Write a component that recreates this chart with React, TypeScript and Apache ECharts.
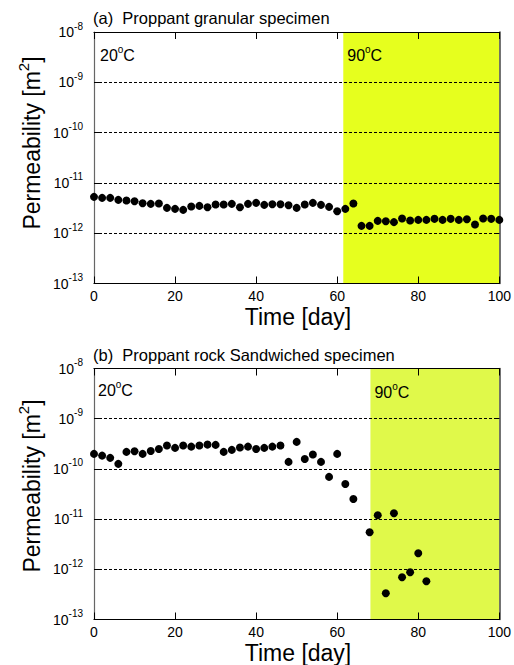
import React, { useEffect, useRef } from "react";
import * as echarts from "echarts";

// Panel (a): Proppant granular specimen
const daysA = [
  0, 2, 4, 6, 8, 10, 12, 14, 16, 18, 20, 22, 24, 26, 28, 30, 32, 34, 36, 38, 40,
  42, 44, 46, 48, 50, 52, 54, 56, 58, 60, 62, 64,
  66, 68, 70, 72, 74, 76, 78, 80, 82, 84, 86, 88, 90, 92, 94, 96, 98, 100,
];
const permA = [
  5.28e-12, 5.04e-12, 5.04e-12, 4.6e-12, 4.46e-12, 4.33e-12, 3.95e-12, 3.83e-12,
  3.89e-12, 3.19e-12, 3.05e-12, 2.91e-12, 3.39e-12, 3.49e-12, 3.29e-12, 3.71e-12,
  3.71e-12, 3.83e-12, 3.29e-12, 3.83e-12, 4.01e-12, 3.66e-12, 3.77e-12, 3.77e-12,
  3.6e-12, 3.19e-12, 3.71e-12, 4.01e-12, 3.66e-12, 3.34e-12, 2.74e-12, 3.05e-12,
  3.89e-12,
  1.4e-12, 1.4e-12, 1.76e-12, 1.73e-12, 1.66e-12, 1.96e-12, 1.79e-12, 1.84e-12,
  1.84e-12, 1.93e-12, 1.84e-12, 1.93e-12, 1.84e-12, 1.9e-12, 1.49e-12, 1.96e-12,
  1.93e-12, 1.84e-12,
];

// Panel (b): Proppant rock Sandwiched specimen
const daysB = [
  0, 2, 4, 6, 8, 10, 12, 14, 16, 18, 20, 22, 24, 26, 28, 30, 32, 34, 36, 38, 40,
  42, 44, 46, 48, 50, 52, 54, 56, 58, 60, 62, 64,
  68, 70, 72, 74, 76, 78, 80, 82,
];
const permB = [
  1.99e-10, 1.84e-10, 1.66e-10, 1.26e-10, 2.18e-10, 2.25e-10, 1.99e-10, 2.28e-10,
  2.5e-10, 2.92e-10, 2.62e-10, 2.92e-10, 2.78e-10, 2.92e-10, 3.05e-10, 3.01e-10,
  2.18e-10, 2.39e-10, 2.66e-10, 2.78e-10, 2.5e-10, 2.62e-10, 2.78e-10, 2.92e-10,
  1.38e-10, 3.45e-10, 1.58e-10, 1.93e-10, 1.38e-10, 6.93e-11, 1.99e-10, 5.02e-11,
  2.52e-11,
  5.47e-12, 1.19e-11, 3.33e-13, 1.31e-11, 6.95e-13, 8.75e-13, 2.09e-12, 5.78e-13,
];

const heatStartA = 61.5;
const heatStartB = 68.2;
const titleA = "(a)  Proppant granular specimen";
const titleB = "(b)  Proppant rock Sandwiched specimen";
const xLabel = "Time [day]";
const yLabelRich = "{a|Permeability [m}{s|2}{a|]}";
const lowTempLabel = "{b|20}{s|o}{b|C}";
const highTempLabel = "{b|90}{s|o}{b|C}";

const FONT = "Liberation Sans, Arial, sans-serif";

const tempRich = {
  b: { fontSize: 16, lineHeight: 22, fontFamily: FONT, color: "#000" },
  s: { fontSize: 10, lineHeight: 12, verticalAlign: "top", fontFamily: FONT, color: "#000" },
};

export default function App() {
  const ref = useRef<HTMLDivElement>(null);

  useEffect(() => {
    if (!ref.current) return;
    const chart = echarts.init(ref.current, undefined, { renderer: "svg" });

    const grids = [
      { left: 94, top: 32, width: 409, height: 251.5 },
      { left: 94, top: 368.5, width: 409, height: 251 },
    ];

    const xAxes: any[] = [];
    const yAxes: any[] = [];
    [0, 1].forEach((g) => {
      xAxes.push({
        gridIndex: g,
        type: "value",
        min: 0,
        max: 100,
        interval: 20,
        position: "bottom",
        z: 10,
        axisLine: { show: true, onZero: false, lineStyle: { color: "#000", width: 1.2 } },
        axisTick: { show: true, inside: true, length: 7, lineStyle: { color: "#000" } },
        axisLabel: { show: true, fontSize: 14, fontFamily: FONT, color: "#000", margin: 5 },
        splitLine: { show: false },
      });
      xAxes.push({
        gridIndex: g,
        type: "value",
        min: 0,
        max: 100,
        interval: 20,
        position: "top",
        z: 10,
        axisLine: { show: true, onZero: false, lineStyle: { color: "#000", width: 1.2 } },
        axisTick: { show: true, inside: true, length: 7, lineStyle: { color: "#000" } },
        axisLabel: { show: false },
        splitLine: { show: false },
      });
      yAxes.push({
        gridIndex: g,
        type: "log",
        logBase: 10,
        min: 1e-13,
        max: 1e-8,
        position: "left",
        z: 10,
        axisLine: { show: true, onZero: false, lineStyle: { color: "#666", width: 1.2 } },
        axisTick: { show: true, inside: true, length: 5, lineStyle: { color: "#000" } },
        minorTick: { show: false },
        axisLabel: {
          show: true,
          margin: 11,
          formatter: (v: number) => `{b|10}{s|${Math.round(Math.log10(v))}}`,
          rich: {
            b: { fontSize: 14, lineHeight: 22, fontFamily: FONT, color: "#000" },
            s: { fontSize: 10, lineHeight: 12, verticalAlign: "top", fontFamily: FONT, color: "#000" },
          },
        },
        splitLine: {
          show: true,
          showMinLine: false,
          showMaxLine: false,
          lineStyle: { color: "#000", type: [3, 2], width: 1 },
        },
      });
      yAxes.push({
        gridIndex: g,
        type: "log",
        logBase: 10,
        min: 1e-13,
        max: 1e-8,
        position: "right",
        z: 10,
        axisLine: { show: true, onZero: false, lineStyle: { color: "#444", width: 1.5 } },
        axisTick: { show: true, inside: true, length: 5, lineStyle: { color: "#000" } },
        axisLabel: { show: false },
        splitLine: { show: false },
      });
    });

    const makeSeries = (
      g: number,
      days: number[],
      perm: number[],
      heatStart: number,
      yellow: string,
      lowOffset: number[],
      highOffset: number[]
    ) => ({
      type: "scatter",
      xAxisIndex: g * 2,
      yAxisIndex: g * 2,
      data: days.map((d, i) => [d, perm[i]]),
      symbol: "circle",
      symbolSize: 8,
      itemStyle: { color: "#000", opacity: 1 },
      z: 12,
      markArea: {
        silent: true,
        z: 1,
        data: [
          [
            {
              xAxis: 0,
              itemStyle: { color: "rgba(0,0,0,0)" },
              label: {
                show: true,
                position: "insideTopLeft",
                offset: lowOffset,
                formatter: lowTempLabel,
                rich: tempRich,
              },
            },
            { xAxis: heatStart },
          ],
          [
            {
              xAxis: heatStart,
              itemStyle: { color: yellow },
              label: {
                show: true,
                position: "insideTopLeft",
                offset: highOffset,
                formatter: highTempLabel,
                rich: tempRich,
              },
            },
            { xAxis: 100.4 },
          ],
        ],
      },
    });

    const yNameRich = {
      a: { fontSize: 23, lineHeight: 32, fontFamily: FONT, fill: "#000" },
      s: { fontSize: 15, lineHeight: 16, verticalAlign: "top", fontFamily: FONT, fill: "#000" },
    };

    const option: any = {
      animation: false,
      backgroundColor: "#fff",
      grid: grids,
      xAxis: xAxes,
      yAxis: yAxes,
      series: [
        makeSeries(0, daysA, permA, heatStartA, "#e6ff1e", [1, 7], [-1, 7]),
        makeSeries(1, daysB, permB, heatStartB, "#e0f94a", [-1, 6], [-1, 8]),
      ],
      graphic: [
        {
          type: "text",
          left: 93,
          top: 9,
          style: { text: titleA, fontSize: 16.5, fontFamily: FONT, fill: "#000" },
        },
        {
          type: "text",
          left: 93,
          top: 346,
          style: { text: titleB, fontSize: 16.5, fontFamily: FONT, fill: "#000" },
        },
        {
          type: "text",
          x: 298,
          y: 317,
          style: {
            text: xLabel,
            fontSize: 23,
            fontFamily: FONT,
            fill: "#000",
            align: "center",
            verticalAlign: "middle",
          },
        },
        {
          type: "text",
          x: 298,
          y: 653,
          style: {
            text: xLabel,
            fontSize: 23,
            fontFamily: FONT,
            fill: "#000",
            align: "center",
            verticalAlign: "middle",
          },
        },
        {
          type: "text",
          x: 32,
          y: 143,
          rotation: Math.PI / 2,
          style: {
            text: yLabelRich,
            rich: yNameRich,
            align: "center",
            verticalAlign: "middle",
          },
        },
        {
          type: "text",
          x: 32,
          y: 486,
          rotation: Math.PI / 2,
          style: {
            text: yLabelRich,
            rich: yNameRich,
            align: "center",
            verticalAlign: "middle",
          },
        },
      ],
    };

    chart.setOption(option);
    return () => {
      chart.dispose();
    };
  }, []);

  return (
    <div
      ref={ref}
      style={{ position: "fixed", left: 0, top: 0, width: 514, height: 665, background: "#fff" }}
    />
  );
}
